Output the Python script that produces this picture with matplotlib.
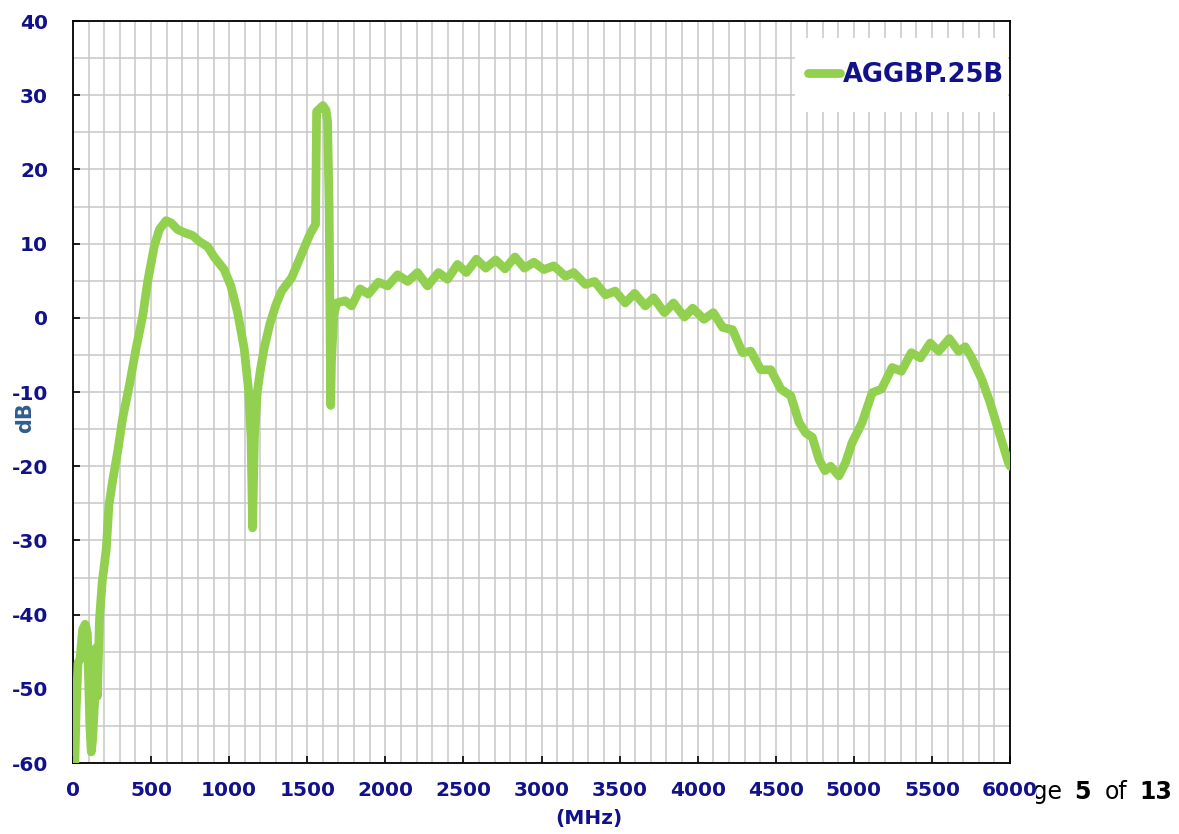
import matplotlib
matplotlib.use("Agg")
import matplotlib.pyplot as plt
from matplotlib.patches import Rectangle
from matplotlib.ticker import MultipleLocator

freq_mhz = [
    0, 12, 20, 32, 45, 62, 78, 92, 100, 108, 117, 125, 138, 147, 156, 170, 187,
    213, 230, 255, 287, 319, 362, 404, 447, 479, 521, 553, 596, 628, 670, 723,
    766, 809, 862, 904, 968, 1011, 1053, 1096, 1123, 1140, 1150, 1162, 1180,
    1200, 1225, 1261, 1300, 1336, 1400, 1464, 1518, 1553, 1560, 1580, 1600,
    1620, 1630, 1640, 1650, 1655, 1670, 1690, 1742, 1784, 1838, 1891, 1955,
    2015, 2079, 2143, 2206, 2270, 2340, 2398, 2462, 2519, 2583, 2643, 2706,
    2766, 2830, 2891, 2951, 3015, 3079, 3153, 3206, 3281, 3340, 3409, 3472,
    3536, 3596, 3664, 3717, 3787, 3845, 3915, 3968, 4040, 4100, 4160, 4223,
    4287, 4340, 4404, 4468, 4532, 4596, 4649, 4691, 4734, 4777, 4815, 4851,
    4904, 4947, 4989, 5053, 5117, 5177, 5245, 5304, 5368, 5426, 5489, 5543,
    5611, 5670, 5713, 5755, 5819, 5872, 5926, 5989, 6000,
]
gain_db = [
    -63, -60, -53, -46.5, -46, -42, -41.3, -42.5, -49, -55, -58.5, -57, -52,
    -44.5, -51, -40.5, -35.6, -31.2, -25.3, -21.8, -17.9, -13.4, -9.0, -4.1,
    0.3, 5.0, 9.7, 11.9, 13.1, 12.8, 11.9, 11.4, 11.1, 10.3, 9.6, 8.2, 6.5,
    4.3, 0.8, -4.1, -9.5, -16.0, -28.3, -16.0, -10.0, -7.0, -4.0, -0.8, 1.8,
    3.6, 5.4, 8.6, 11.3, 12.6, 27.8, 28.2, 28.6, 28.0, 26.5, 15.0, -11.8,
    -6.0, 0.5, 2.0, 2.3, 1.6, 3.9, 3.2, 4.8,
    4.3, 5.8, 4.9, 6.1, 4.3, 6.1, 5.2, 7.2, 6.1, 7.9, 6.7, 7.8, 6.6, 8.2,
    6.7, 7.5, 6.5, 7.0, 5.6, 6.1, 4.5, 4.9, 3.1, 3.6, 2.0, 3.3, 1.6, 2.7,
    0.7, 2.0, 0.1, 1.3, -0.2, 0.7, -1.3, -1.6, -4.7, -4.5, -7.0, -7.0, -9.6,
    -10.5, -14.1, -15.5, -16.1, -19.1, -20.6, -20.0, -21.3, -19.5, -16.8,
    -14.1, -10.1, -9.6, -6.7, -7.2, -4.7, -5.4, -3.4, -4.5, -2.8, -4.5, -3.9,
    -5.4, -8.3, -11.4, -15.2, -19.5, -20.0,
]
series_name = "AGGBP.25B"

navy = "#11118a"
green = "#92d050"

plt.rcParams["font.family"] = ["DejaVu Sans"]
plt.rcParams["axes.unicode_minus"] = False

fig = plt.figure(figsize=(11.79, 8.34), dpi=100)
ax = fig.add_axes([0.0619, 0.0851, 0.7948, 0.8897])

ax.plot(freq_mhz, gain_db, color=green, linewidth=6.3,
        solid_capstyle="round", solid_joinstyle="round", label=series_name,
        zorder=3)

ax.set_xlim(0, 6000)
ax.set_ylim(-60, 40)
ax.xaxis.set_major_locator(MultipleLocator(500))
ax.xaxis.set_minor_locator(MultipleLocator(100))
ax.yaxis.set_major_locator(MultipleLocator(10))
ax.yaxis.set_minor_locator(MultipleLocator(5))

ax.grid(which="both", color="#c8c8c8", linewidth=1.1)
ax.set_axisbelow(True)
ax.tick_params(which="major", direction="in", length=5, width=1.2,
               top=False, right=False, colors="black")
ax.tick_params(which="minor", length=0)
ax.tick_params(axis="y", pad=18, labelcolor=navy, labelsize=14.5)
ax.tick_params(axis="x", pad=13, labelcolor=navy, labelsize=14.5)
for lab in ax.get_xticklabels() + ax.get_yticklabels():
    lab.set_fontweight("bold")
for sp in ax.spines.values():
    sp.set_linewidth(1.3)
    sp.set_color("black")

ax.set_ylabel("dB", color="#2e5e8e", fontsize=15, fontweight="bold")
ax.yaxis.set_label_coords(-0.0406, 0.465)
ax.set_xlabel("(MHz)", color=navy, fontsize=14.5, fontweight="bold")
ax.xaxis.set_label_coords(0.551, -0.062)

# white box behind the legend
ax.add_patch(Rectangle((0.7705, 0.8774), 0.2275, 0.0996, transform=ax.transAxes,
                       facecolor="white", edgecolor="none", zorder=2))
leg = ax.legend(loc="center right", bbox_to_anchor=(0.9936, 0.927),
                frameon=False, handlelength=1.25, handletextpad=0.1,
                borderpad=0, borderaxespad=0,
                prop={"weight": "bold", "size": 18.5})
for t in leg.get_texts():
    t.set_color(navy)

# page footer text sitting partly behind the chart
footer_y = 0.042
fig.text(1063 / 1179, footer_y, "Page", ha="right", va="baseline",
         fontsize=17, color="black", zorder=-2)
fig.text(1091 / 1179, footer_y, "5", ha="right", va="baseline",
         fontsize=17, fontweight="bold", color="black", zorder=-2)
fig.text(1127 / 1179, footer_y, "of", ha="right", va="baseline",
         fontsize=17, color="black", zorder=-2)
fig.text(1172 / 1179, footer_y, "13", ha="right", va="baseline",
         fontsize=17, fontweight="bold", color="black", zorder=-2)
fig.patches.append(Rectangle((0.8, 0.0), 1036 / 1179 - 0.8, 0.085,
                             transform=fig.transFigure, facecolor="white",
                             edgecolor="none", zorder=-1))

fig.savefig("out.png", dpi=100)
